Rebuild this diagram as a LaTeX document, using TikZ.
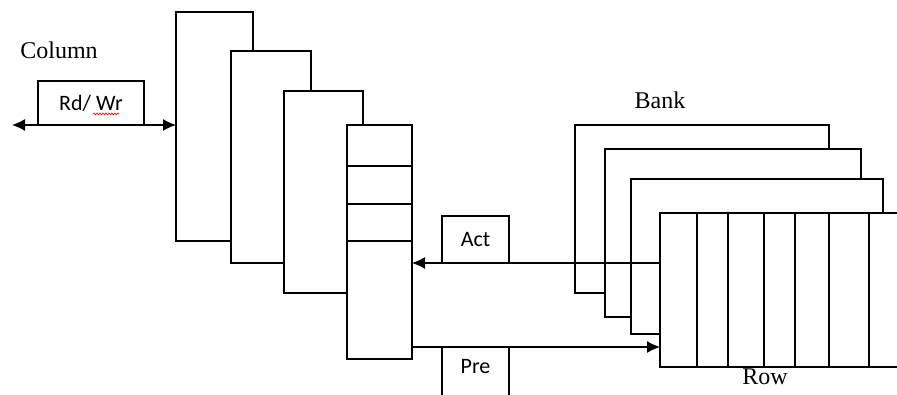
\documentclass[tikz,border=0pt]{standalone}
\usepackage{fontspec}
\setmainfont{Liberation Serif}
\newfontfamily\calibri{Carlito}
\usetikzlibrary{arrows.meta,decorations.pathmorphing}

\tikzset{
  blk/.style={draw, fill=white, inner sep=0pt, outer sep=0pt, anchor=north west},
  cmd/.style={blk, font=\calibri\fontsize{22}{24}\selectfont},
  lbl/.style={font=\fontsize{24}{26}\selectfont},
  tip/.style={Latex[length=13pt,width=12pt]},
  arr/.style={-{Latex[length=13pt,width=12pt]}}
}

\begin{document}
\begin{tikzpicture}[x=1pt,y=-1pt,line width=1.3pt]
  \useasboundingbox (0,0) rectangle (897,395);
  \clip (0,0) rectangle (897,395);

  % column side
  \node[lbl] (column) at (59,50) {Column};
  \node[cmd, minimum width=106, minimum height=44] (rdwr) at (38,81) {Rd/ Wr};
  \draw[red, line width=0.6pt, decorate,
        decoration={snake, amplitude=1pt, segment length=3pt}] (93,114) -- (119,114);

  \node[blk, minimum width=77, minimum height=229] (c1) at (176,12) {};
  \node[blk, minimum width=80, minimum height=212] (c2) at (231,51) {};
  \node[blk, minimum width=79, minimum height=202] (c3) at (284,91) {};
  \node[blk, minimum width=65, minimum height=234] (c4) at (347,125) {};
  \foreach \r in {166,204,241}
    \draw (c4.west |- 0,\r) -- (c4.east |- 0,\r);

  \coordinate (busend) at (12,125);
  \draw[{Latex[length=13pt,width=12pt]}-{Latex[length=13pt,width=12pt]}]
    (busend) -- (c1.west |- rdwr.south);

  % banks
  \node[lbl] (bank) at (660,100) {Bank};
  \node[blk, minimum width=254, minimum height=168] (bankA) at (575,125) {};
  \node[blk, minimum width=256, minimum height=168] (bankB) at (605,149) {};
  \node[blk, minimum width=252, minimum height=155] (bankC) at (631,179) {};
  \node[blk, minimum width=260, minimum height=154] (bankD) at (660,213) {};
  \foreach \x in {697,728,764,795,829,869}
    \draw (\x,0 |- bankD.north) -- (\x,0 |- bankD.south);
  \node[lbl] (row) at (765,377) {Row};

  % commands
  \node[cmd, minimum width=67, minimum height=47] (act) at (442,216) {Act};
  \node[cmd, minimum width=67, minimum height=52, text depth=13pt] (pre) at (442,347) {Pre};

  \draw[arr] (bankD.west |- act.south) -- (c4.east |- act.south);
  \draw[arr] (c4.east |- pre.north) -- (bankD.west |- pre.north);
\end{tikzpicture}
\end{document}
